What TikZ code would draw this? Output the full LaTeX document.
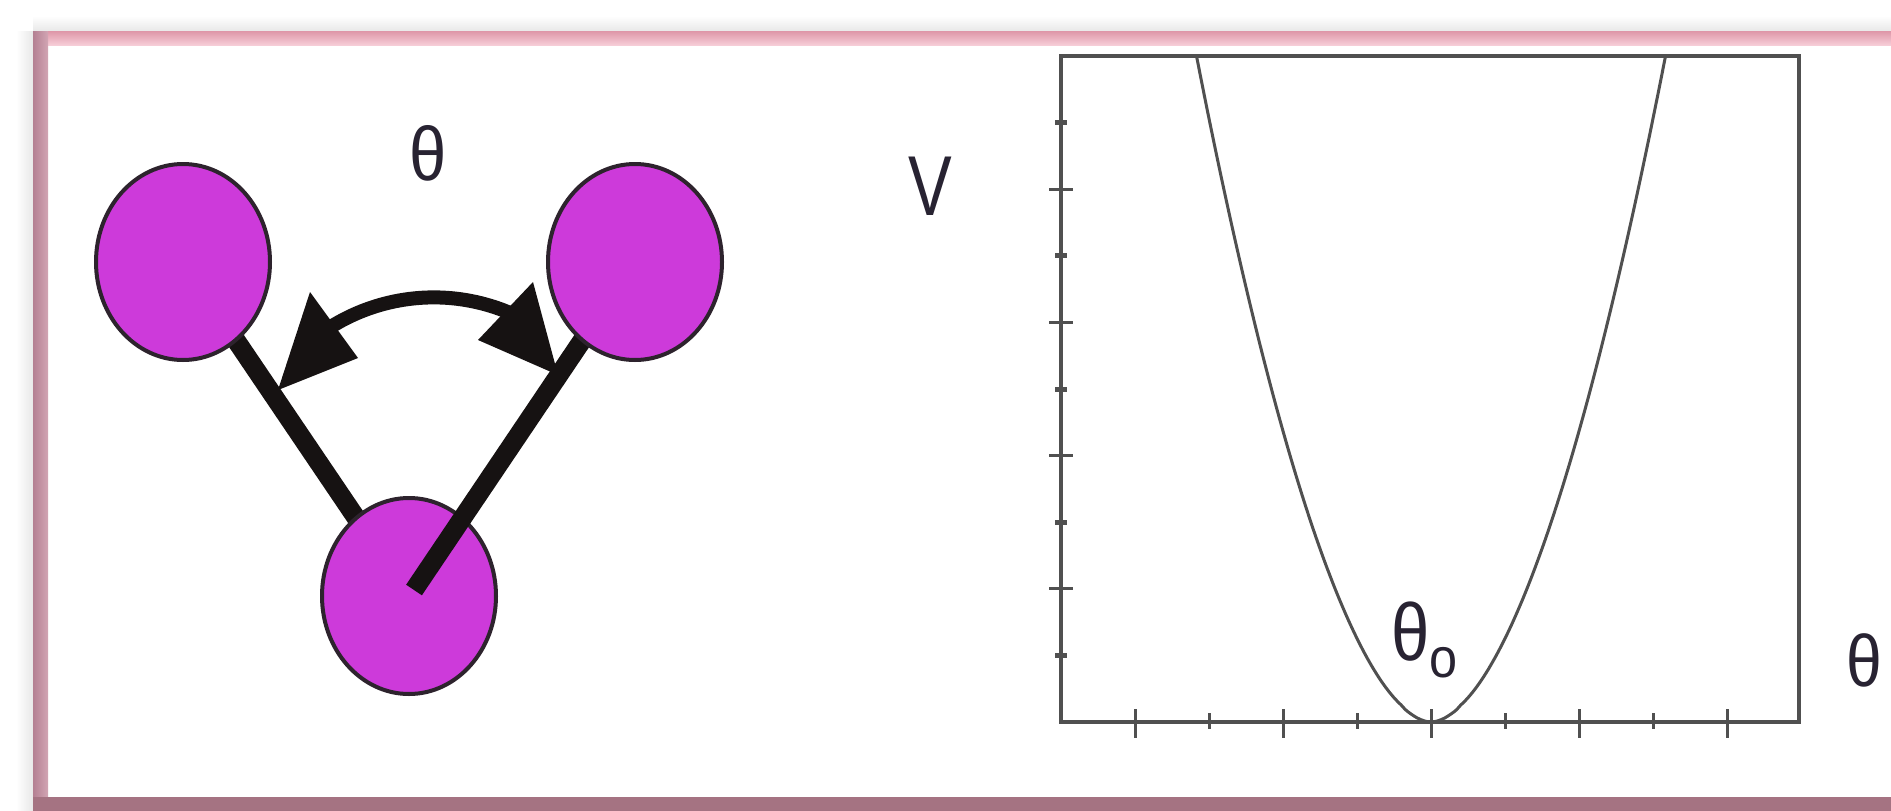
\documentclass[tikz,border=0pt]{standalone}
\usepackage{fontspec}
\setmainfont{Liberation Sans}
\usetikzlibrary{shapes.geometric}
\definecolor{atomfill}{RGB}{205,58,218}
\definecolor{atomline}{RGB}{45,35,45}
\definecolor{bondcol}{RGB}{22,18,18}
\definecolor{axiscol}{RGB}{80,80,80}
\definecolor{txtcol}{RGB}{40,35,50}
\definecolor{pinktop}{RGB}{222,150,168}
\definecolor{pinkbot}{RGB}{246,205,215}
\definecolor{mauveL}{RGB}{180,128,146}
\definecolor{mauveR}{RGB}{210,165,180}
\definecolor{darkband}{RGB}{165,115,130}
\definecolor{shadowgray}{RGB}{232,232,232}
\begin{document}
\begin{tikzpicture}[x=1pt,y=-1pt,
  atom/.style={ellipse, draw=atomline, line width=4pt, fill=atomfill,
    minimum width=174pt, minimum height=196pt, inner sep=0pt},
  bond/.style={line width=19pt, draw=bondcol},
  axisline/.style={draw=axiscol, line width=4.5pt},
  tickline/.style={draw=axiscol, line width=3pt},
  lbl/.style={inner sep=0pt, text=txtcol}]
\useasboundingbox (0,0) rectangle (1891,811);
\fill[white] (0,0) rectangle (1891,811);
% frame
\shade[left color=white, right color=shadowgray] (16,31) rectangle (33,811);
\shade[top color=white, bottom color=shadowgray] (33,16) rectangle (1891,31);
\shade[top color=pinktop, bottom color=pinkbot] (33,31) rectangle (1891,45);
\shade[left color=mauveL, right color=mauveR] (33,31) rectangle (48,811);
\fill[darkband] (33,797) rectangle (1891,811);
% molecule
\coordinate (Lc) at (183,262);
\coordinate (Rc) at (635,262);
\coordinate (Bc) at (409,596);
\coordinate (Bend) at (414,590);
\draw[bond] (Lc) -- (Bc);
\node[atom] (B) at (Bc) {};
\draw[bond] (Rc) -- (Bend);
\node[atom] (L) at (Lc) {};
\node[atom] (R) at (Rc) {};
% angle arrow
\coordinate (a1) at (322,332.7);
\coordinate (a2) at (516.2,315.7);
\draw[draw=bondcol, line width=14pt] (a1) .. controls (379.1,292.7) and (453,286.2) .. (a2);
\fill[bondcol] (278,390) -- (310,292) -- (358,358) -- cycle;
\fill[bondcol] (558,375) -- (533,282) -- (478,340) -- cycle;
\node[lbl, font=\fontsize{76}{80}\selectfont, xscale=0.88] (thtop) at (428,153) {θ};
% plot
\draw[axisline] (1061,56) rectangle (1799,722);
\foreach \k in {2,4,6,8} \draw[tickline] (1049,{722-66.6*\k}) -- (1073,{722-66.6*\k});
\foreach \k in {1,3,5,7,9} \draw[draw=axiscol, line width=5pt] (1055,{722-66.6*\k}) -- (1067,{722-66.6*\k});
\foreach \k in {1,3,5,7,9} \draw[tickline] ({1061+74*\k},709) -- ({1061+74*\k},738);
\foreach \k in {2,4,6,8} \draw[tickline] ({1061+74*\k},713) -- ({1061+74*\k},729);
\draw[draw=axiscol, line width=3pt, domain=-1:1, samples=120, smooth]
  plot ({1431+234.5*\x},{722-666*(abs(\x))^1.8});
\node[lbl, font=\fontsize{85}{88}\selectfont, xscale=0.77] (V) at (930,186) {V};
\node[lbl, font=\fontsize{81}{84}\selectfont, xscale=0.85] (th0) at (1411,632) {θ};
\node[lbl, font=\fontsize{56}{60}\selectfont, xscale=0.9] (sub0) at (1443,663) {o};
\node[lbl, font=\fontsize{73}{76}\selectfont, xscale=0.88] (thr) at (1864,660) {θ};
\end{tikzpicture}
\end{document}
